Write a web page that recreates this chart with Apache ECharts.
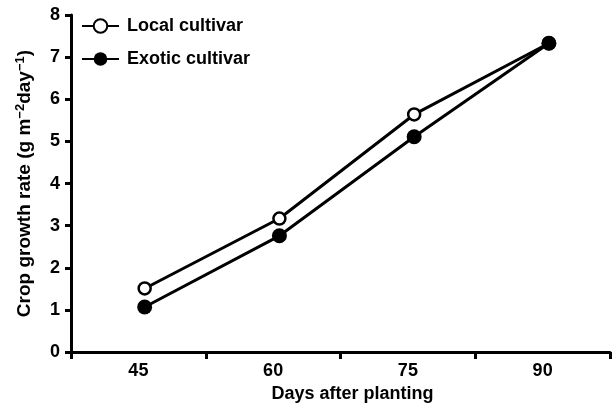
<!DOCTYPE html>
<html>
<head>
<meta charset="utf-8">
<script src="https://cdn.jsdelivr.net/npm/echarts@6/dist/echarts.min.js"></script>
<style>
  html, body { margin: 0; padding: 0; background: #fff; }
  #chart { width: 613px; height: 408px; }
</style>
</head>
<body>
<div id="chart"></div>
<script>
// ---- data ----
const days = [45, 60, 75, 90];
const xLabels = ['45', '60', '75', '90'];
const localCultivar = [1.51, 3.17, 5.64, 7.33];
const exoticCultivar = [1.07, 2.76, 5.11, 7.33];
const yTicks = [0, 1, 2, 3, 4, 5, 6, 7, 8];

const FONT = 'Liberation Sans, Arial, sans-serif';
const chart = echarts.init(document.getElementById('chart'), null, { renderer: 'canvas' });

const option = {
  animation: false,
  backgroundColor: '#fff',
  grid: { left: 71, right: 3, top: 15, bottom: 55 },
  legend: {
    orient: 'vertical',
    left: 76,
    top: 12,
    itemWidth: 37,
    itemHeight: 17,
    itemGap: 15,
    selectedMode: false,
    textStyle: { color: '#000', fontSize: 18, fontWeight: 'bold', fontFamily: FONT, padding: [0, 0, 0, 3] },
    data: ['Local cultivar', 'Exotic cultivar']
  },
  xAxis: [
    {
      type: 'value',
      min: 36.8,
      max: 96.8,
      interval: 15,
      position: 'bottom',
      axisLine: { show: true, lineStyle: { color: '#000', width: 3 } },
      axisTick: { show: true, inside: false, length: 7, lineStyle: { color: '#000', width: 3 } },
      axisLabel: { show: false },
      splitLine: { show: false }
    },
    {
      type: 'category',
      data: xLabels,
      boundaryGap: true,
      position: 'bottom',
      axisLine: { show: false },
      axisTick: { show: false },
      axisLabel: { color: '#000', fontSize: 18, fontWeight: 'bold', fontFamily: FONT, margin: 10 },
      name: 'Days after planting',
      nameLocation: 'middle',
      nameGap: 32,
      nameTextStyle: { color: '#000', fontSize: 18, fontWeight: 'bold', fontFamily: FONT, padding: [0, 0, 0, 24] }
    }
  ],
  yAxis: {
    type: 'value',
    min: yTicks[0],
    max: yTicks[yTicks.length - 1],
    interval: 1,
    axisLine: { show: true, lineStyle: { color: '#000', width: 3 } },
    axisTick: { show: true, inside: false, length: 6, lineStyle: { color: '#000', width: 3 } },
    axisLabel: { color: '#000', fontSize: 18, fontWeight: 'bold', fontFamily: FONT, margin: 11 },
    splitLine: { show: false },
    name: '{a|Crop growth rate (g m}{s|\u22122}{a|day}{s|\u22121}{a|)}',
    nameLocation: 'middle',
    nameGap: 35,
    nameTextStyle: {
      color: '#000',
      rich: {
        a: { fontSize: 19, fontWeight: 'bold', fontFamily: FONT, color: '#000', lineHeight: 22 },
        s: { fontSize: 13, fontWeight: 'bold', fontFamily: FONT, color: '#000', lineHeight: 12, verticalAlign: 'top' }
      }
    }
  },
  series: [
    {
      name: 'Local cultivar',
      type: 'line',
      xAxisIndex: 0,
      data: days.map((d, i) => [d, localCultivar[i]]),
      symbol: 'circle',
      symbolSize: 12,
      showAllSymbol: true,
      lineStyle: { color: '#000', width: 3 },
      itemStyle: { color: '#fff', borderColor: '#000', borderWidth: 2.5 },
      z: 2
    },
    {
      name: 'Exotic cultivar',
      type: 'line',
      xAxisIndex: 0,
      data: days.map((d, i) => [d, exoticCultivar[i]]),
      symbol: 'circle',
      symbolSize: 15,
      showAllSymbol: true,
      lineStyle: { color: '#000', width: 3 },
      itemStyle: { color: '#000', borderColor: '#000', borderWidth: 0 },
      z: 3
    }
  ]
};
chart.setOption(option);
</script>
</body>
</html>
